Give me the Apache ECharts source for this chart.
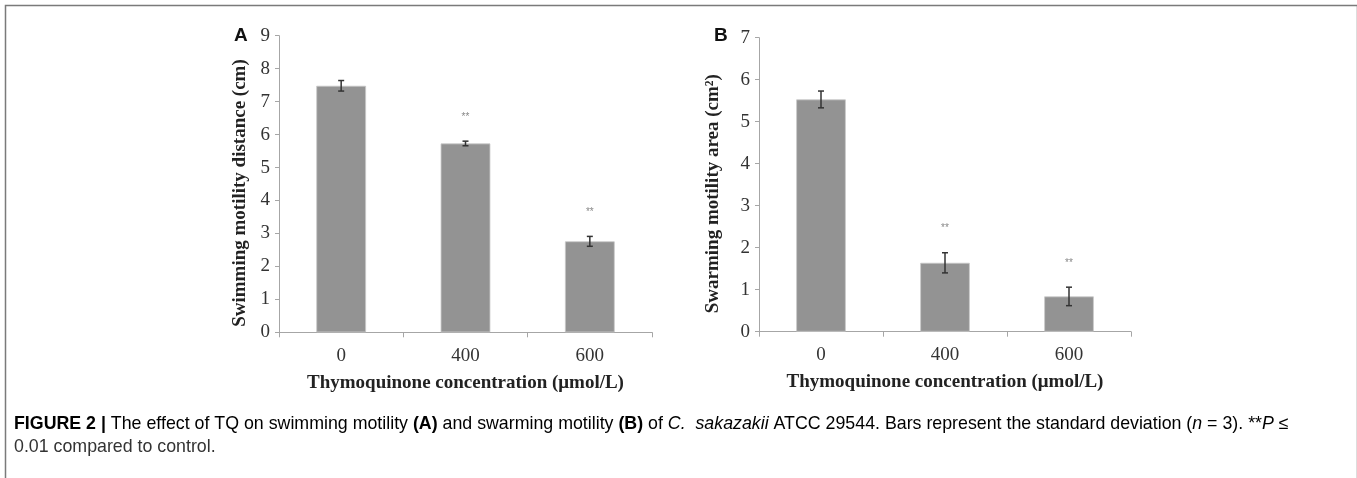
<!DOCTYPE html>
<html>
<head>
<meta charset="utf-8">
<script src="https://cdn.jsdelivr.net/npm/echarts@6/dist/echarts.min.js"></script>
<style>
html,body{margin:0;padding:0;background:#fff;}
#chart{width:1357px;height:478px;}
</style>
</head>
<body>
<div id="chart"></div>
<script>
// ---- data ----
const categories = ['0', '400', '600'];
const swimMean = [7.48, 5.73, 2.76];
const swimSD = [0.16, 0.07, 0.15];
const swimSig = ['', '**', '**'];
const swarmMean = [5.53, 1.64, 0.84];
const swarmSD = [0.20, 0.24, 0.22];
const swarmSig = ['', '**', '**'];
const yMaxA = 9;
const yMaxB = 7;
const xTitle = 'Thymoquinone concentration (\u03bcmol/L)';
const yTitleA = 'Swimming motility distance (cm)';
const yTitleB = 'Swarming motility area (cm\u00b2)';
const captionLine1 = [
  ['b', 'FIGURE 2 |'], ['r', ' The effect of TQ on swimming motility '], ['b', '(A)'],
  ['r', ' and swarming motility '], ['b', '(B)'], ['r', ' of '], ['i', 'C.  sakazakii'],
  ['r', ' ATCC 29544. Bars represent the standard deviation ('], ['i', 'n'],
  ['r', ' = 3). **'], ['i', 'P'], ['r', ' \u2264']
];
const captionLine2 = '0.01 compared to control.';

// ---- helpers ----
const serif = '"Liberation Serif", "Times New Roman", serif';
const sans = '"Liberation Sans", Arial, sans-serif';
const axisGray = '#a6a6a6';

function errData(mean, sd, sig) {
  return mean.map((m, i) => [i, m, sd[i], sig[i]]);
}
function errRender(params, api) {
  const x = api.value(0), m = api.value(1), s = api.value(2);
  const sig = api.value(3);
  const top = api.coord([x, m + s]);
  const bot = api.coord([x, m - s]);
  const cap = 3;
  const st = { stroke: '#333', lineWidth: 1.5 };
  const children = [
    { type: 'line', shape: { x1: top[0], y1: top[1], x2: bot[0], y2: bot[1] }, style: st },
    { type: 'line', shape: { x1: top[0] - cap, y1: top[1], x2: top[0] + cap, y2: top[1] }, style: st },
    { type: 'line', shape: { x1: bot[0] - cap, y1: bot[1], x2: bot[0] + cap, y2: bot[1] }, style: st }
  ];
  if (sig) {
    children.push({ type: 'text', style: { text: sig, x: top[0], y: top[1] - 24, align: 'center', verticalAlign: 'middle', font: '10px ' + sans, fill: '#888' } });
  }
  return { type: 'group', children };
}
function xAxisCfg(gi) {
  return {
    type: 'category', gridIndex: gi, data: categories,
    boundaryGap: true,
    axisLine: { lineStyle: { color: axisGray, width: 1 } },
    axisTick: { show: true, length: 5, lineStyle: { color: axisGray } },
    axisLabel: { color: '#333', fontFamily: serif, fontSize: 19, margin: 14 },
    name: xTitle, nameLocation: 'middle', nameGap: 41,
    nameTextStyle: { fontFamily: serif, fontWeight: 'bold', fontSize: 19, color: '#222' }
  };
}
function yAxisCfg(gi, max, title, gap) {
  return {
    type: 'value', gridIndex: gi, min: 0, max: max, interval: 1,
    axisLine: { show: true, lineStyle: { color: axisGray, width: 1 } },
    axisTick: { show: true, length: 4, lineStyle: { color: axisGray } },
    splitLine: { show: false },
    axisLabel: { color: '#333', fontFamily: serif, fontSize: 19, margin: 9 },
    name: title, nameLocation: 'middle', nameGap: gap,
    nameTextStyle: { fontFamily: serif, fontWeight: 'bold', fontSize: 19, color: '#222', padding: [0, 18, 0, 0] }
  };
}

const chart = echarts.init(document.getElementById('chart'), null, { renderer: 'canvas' });
const capSize = 17.8;
const richStyles = {
  b: { fontFamily: sans, fontWeight: 'bold', fontSize: capSize, color: '#333' },
  r: { fontFamily: sans, fontSize: capSize, color: '#333' },
  i: { fontFamily: sans, fontStyle: 'italic', fontSize: capSize, color: '#333' }
};
const cap1 = captionLine1.map(p => '{' + p[0] + '|' + p[1] + '}').join('');

chart.setOption({
  animation: false,
  backgroundColor: '#fff',
  grid: [
    { left: 279, top: 35.7, width: 373, height: 296.6 },
    { left: 759, top: 37.7, width: 372, height: 294 }
  ],
  xAxis: [xAxisCfg(0), xAxisCfg(1)],
  yAxis: [yAxisCfg(0, yMaxA, yTitleA, 29), yAxisCfg(1, yMaxB, yTitleB, 36)],
  series: [
    { type: 'bar', xAxisIndex: 0, yAxisIndex: 0, data: swimMean, barWidth: '40%',
      itemStyle: { color: '#939393', borderColor: '#c8c8c8', borderWidth: 0.8 } },
    { type: 'custom', xAxisIndex: 0, yAxisIndex: 0, data: errData(swimMean, swimSD, swimSig),
      encode: { x: 0, y: 1 }, renderItem: errRender, z: 5 },
    { type: 'bar', xAxisIndex: 1, yAxisIndex: 1, data: swarmMean, barWidth: '40%',
      itemStyle: { color: '#939393', borderColor: '#c8c8c8', borderWidth: 0.8 } },
    { type: 'custom', xAxisIndex: 1, yAxisIndex: 1, data: errData(swarmMean, swarmSD, swarmSig),
      encode: { x: 0, y: 1 }, renderItem: errRender, z: 5 }
  ],
  graphic: [
    { type: 'rect', left: 3, top: 3, shape: { width: 1352, height: 485 }, style: { fill: 'none', stroke: '#7a7a7a', lineWidth: 1.5 }, silent: true },
    { type: 'text', left: 234, top: 26, style: { text: 'A', font: 'bold 19px ' + sans, fill: '#111' } },
    { type: 'text', left: 714, top: 26, style: { text: 'B', font: 'bold 19px ' + sans, fill: '#111' } },
    { type: 'text', left: 14, top: 415, style: { text: cap1, rich: richStyles } },
    { type: 'text', left: 14, top: 438, style: { text: captionLine2, font: capSize + 'px ' + sans, fill: '#333' } }
  ]
});
</script>
</body>
</html>
